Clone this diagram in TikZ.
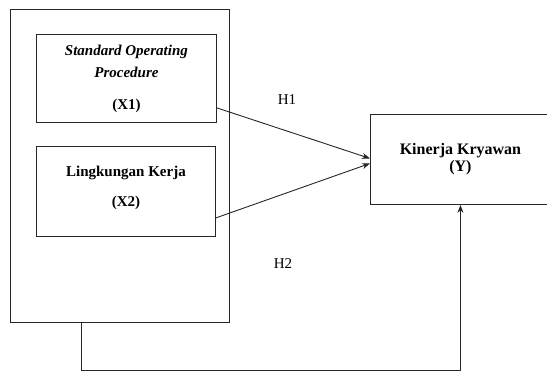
\documentclass[tikz,border=0pt]{standalone}
\usepackage{fontspec}
\setmainfont{Liberation Serif}
\usetikzlibrary{arrows.meta}
\begin{document}
\begin{tikzpicture}[x=1pt,y=-1pt,
 box/.style={draw=black!85, line width=0.9pt, inner sep=0pt, anchor=north west},
 conn/.style={draw=black!85, line width=0.9pt, -{Stealth[length=8pt,width=6pt]}},
 lbl/.style={font=\fontsize{15}{18}\selectfont}]
\clip (0,0) rectangle (547,371);
\node[box, minimum width=219pt, minimum height=313pt] (outer) at (10,9) {};
\node[box, minimum width=180pt, minimum height=88pt, align=center,
  font=\fontsize{15}{22}\selectfont\bfseries] (x1) at (36,34)
  {\textit{Standard Operating}\\\textit{Procedure}\\[10pt](X1)};
\node[box, minimum width=179pt, minimum height=90pt, align=center,
  font=\fontsize{15}{22}\selectfont\bfseries] (x2) at (36,146)
  {Lingkungan Kerja\\[8pt](X2)\\[-12pt]};
\node[box, minimum width=180pt, minimum height=90pt, align=center,
  font=\fontsize{16}{17}\selectfont\bfseries] (ky) at (370,114)
  {Kinerja Kryawan\\(Y)};
\node[lbl] (h1) at (287,100) {H1};
\node[lbl] (h2) at (283,264) {H2};
\draw[conn] ([yshift=15pt]x1.south east) -- ([yshift=1pt]ky.west);
\draw[conn] ([yshift=19pt]x2.south east) -- ([yshift=-4pt]ky.west);
\draw[conn] ([xshift=71pt]outer.south west) -- ++(0,48) -| (ky.south);
\end{tikzpicture}
\end{document}
